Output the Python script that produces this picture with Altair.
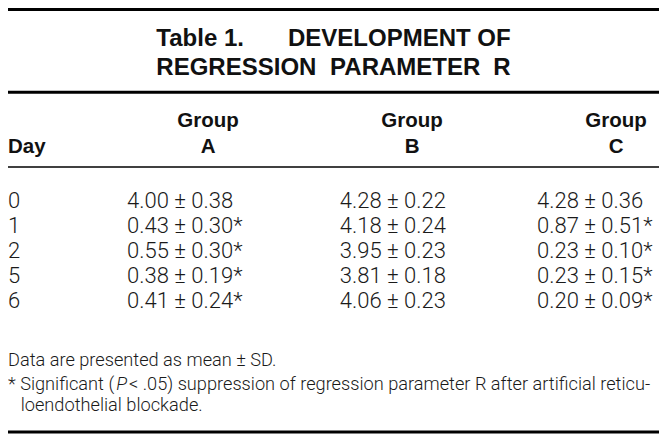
import altair as alt
import pandas as pd

# ---------------- table content ----------------
TITLE_LINE_1 = ["Table 1.", "DEVELOPMENT OF"]
TITLE_LINE_2 = ["REGRESSION", "PARAMETER", "R"]
ROW_HEADER = "Day"
GROUP_WORD = "Group"
GROUPS = ["A", "B", "C"]
DAYS = ["0", "1", "2", "5", "6"]

MEAN_A = ["4.00", "0.43", "0.55", "0.38", "0.41"]
SD_A = ["0.38", "0.30", "0.30", "0.19", "0.24"]
SIG_A = [False, True, True, True, True]

MEAN_B = ["4.28", "4.18", "3.95", "3.81", "4.06"]
SD_B = ["0.22", "0.24", "0.23", "0.18", "0.23"]
SIG_B = [False, False, False, False, False]

MEAN_C = ["4.28", "0.87", "0.23", "0.23", "0.20"]
SD_C = ["0.36", "0.51", "0.10", "0.15", "0.09"]
SIG_C = [False, True, True, True, True]

FOOTNOTE_1 = "Data are presented as mean \u00b1 SD."
FOOTNOTE_2 = ["* Significant (", "P", " < .05) suppression of regression parameter R after artificial reticu-"]
FOOTNOTE_3 = "loendothelial blockade."

# ---------------- layout (reference pixel space) ----------------
REF_W, REF_H = 667, 443
W, H = 651, 427

TITLE_BASELINES = [39, 69]
TITLE_LEFT, TITLE_RIGHT, PARAM_LEFT = 152, 515, 330
GROUP_BASELINE, LETTER_BASELINE = 123, 150
GROUP_CENTERS = [205, 414, 623]
VALUE_LEFTS = [122, 340, 542]
DAY_LEFT = 0
FIRST_ROW_BASELINE, ROW_STEP = 207, 26
FOOT_BASELINES = [371, 396, 418]
FOOT_PIECE_X = [0, 111, 124]
FOOT_INDENT = 13
THICK_RULES = [1.5, 87.5, 440]
THIN_RULES = [165]

BOLD_FONT = "Liberation Sans"
LIGHT_FONT = "Roboto"
INK = "#111111"
LIGHT_INK = "#1a1a1a"

x_scale = alt.Scale(domain=[0, REF_W], nice=False, zero=False)
y_scale = alt.Scale(domain=[0, REF_H], reverse=True, nice=False, zero=False)


def enc_xy():
    return dict(
        x=alt.X("x:Q", scale=x_scale, axis=None),
        y=alt.Y("y:Q", scale=y_scale, axis=None),
    )


def text_layer(rows, font, size, weight="normal", align="left", style="normal", color=INK):
    df = pd.DataFrame(rows, columns=["text", "x", "y"])
    return alt.Chart(df).mark_text(
        font=font, fontSize=size, fontWeight=weight, fontStyle=style,
        align=align, baseline="alphabetic", color=color,
    ).encode(text="text:N", **enc_xy())


def rule_layer(ys, width):
    df = pd.DataFrame({"y": ys, "x": [0] * len(ys), "x2": [REF_W] * len(ys)})
    return alt.Chart(df).mark_rule(color="#000000", strokeWidth=width).encode(
        x=alt.X("x:Q", scale=x_scale, axis=None),
        x2="x2:Q",
        y=alt.Y("y:Q", scale=y_scale, axis=None),
    )


# title
title_left = text_layer(
    [(TITLE_LINE_1[0], TITLE_LEFT, TITLE_BASELINES[0]),
     (TITLE_LINE_2[0], TITLE_LEFT, TITLE_BASELINES[1]),
     (TITLE_LINE_2[1], PARAM_LEFT, TITLE_BASELINES[1])],
    BOLD_FONT, 24, "bold", "left")
title_right = text_layer(
    [(TITLE_LINE_1[1], TITLE_RIGHT, TITLE_BASELINES[0]),
     (TITLE_LINE_2[2], TITLE_RIGHT, TITLE_BASELINES[1])],
    BOLD_FONT, 24, "bold", "right")

# header
header_center = text_layer(
    [(GROUP_WORD, cx, GROUP_BASELINE) for cx in GROUP_CENTERS]
    + [(g, cx, LETTER_BASELINE) for g, cx in zip(GROUPS, GROUP_CENTERS)],
    BOLD_FONT, 20.5, "bold", "center")
header_left = text_layer([(ROW_HEADER, DAY_LEFT, LETTER_BASELINE)], BOLD_FONT, 20.5, "bold", "left")

# body
body_rows = []
for i, d in enumerate(DAYS):
    yb = FIRST_ROW_BASELINE + i * ROW_STEP
    body_rows.append((d, DAY_LEFT, yb))
    for means, sds, sigs, xl in ((MEAN_A, SD_A, SIG_A, VALUE_LEFTS[0]),
                                 (MEAN_B, SD_B, SIG_B, VALUE_LEFTS[1]),
                                 (MEAN_C, SD_C, SIG_C, VALUE_LEFTS[2])):
        body_rows.append((f"{means[i]} \u00b1 {sds[i]}" + ("*" if sigs[i] else ""), xl, yb))
body = text_layer(body_rows, LIGHT_FONT, 22, 300, "left", color=LIGHT_INK)

# footnotes
foot = text_layer(
    [(FOOTNOTE_1, 0, FOOT_BASELINES[0]),
     (FOOTNOTE_2[0], FOOT_PIECE_X[0], FOOT_BASELINES[1]),
     (FOOTNOTE_2[2], FOOT_PIECE_X[2], FOOT_BASELINES[1]),
     (FOOTNOTE_3, FOOT_INDENT, FOOT_BASELINES[2])],
    LIGHT_FONT, 18.2, 300, "left", color=LIGHT_INK)
foot_italic = text_layer([(FOOTNOTE_2[1], FOOT_PIECE_X[1], FOOT_BASELINES[1])],
                         LIGHT_FONT, 18.2, 300, "left", style="italic", color=LIGHT_INK)

chart = alt.layer(
    rule_layer(THICK_RULES, 3), rule_layer(THIN_RULES, 1.5),
    title_left, title_right, header_center, header_left, body, foot, foot_italic,
).properties(width=W, height=H, padding=0, autosize=alt.AutoSizeParams(type="none")
).configure_view(stroke=None)

chart.save("out.html", embed_options={"renderer": "svg", "actions": False})
